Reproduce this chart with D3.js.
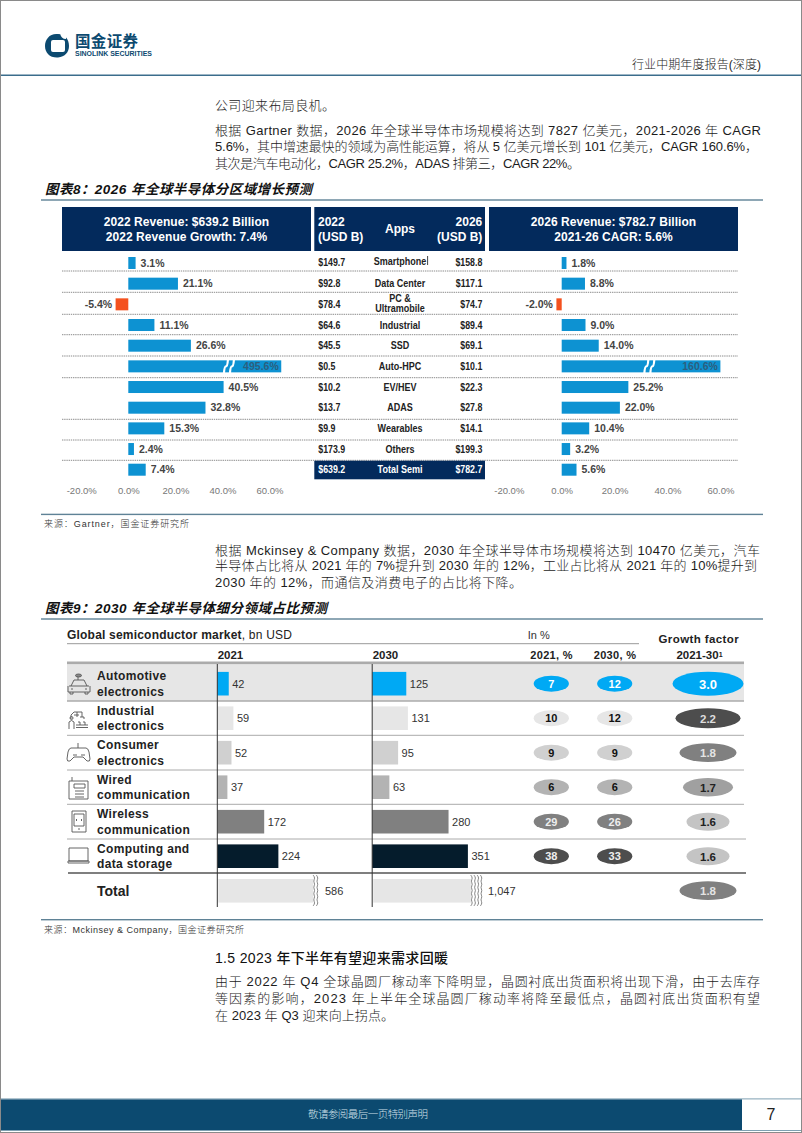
<!DOCTYPE html>
<html><head><meta charset="utf-8">
<script src="https://cdn.jsdelivr.net/npm/d3@7"></script>
<style>
html,body{margin:0;padding:0;background:#fff}
svg{display:block}
text{font-family:"Liberation Sans","Noto Sans CJK SC",sans-serif}
.cn{font-family:"Liberation Sans","Noto Sans CJK SC",sans-serif;font-weight:300}
</style></head><body>
<svg id="page" width="802" height="1133"></svg>
<script>
// ---- chart 8 data
const apps = ["Smartphone","Data Center","PC & Ultramobile","Industrial","SSD","Auto-HPC","EV/HEV","ADAS","Wearables","Others","Total Semi"];
const revenue2022 = [149.7,92.8,78.4,64.6,45.5,0.5,10.2,13.7,9.9,173.9,639.2];
const revenue2026 = [158.8,117.1,74.7,89.4,69.1,10.1,22.3,27.8,14.1,199.3,782.7];
const growth2022 = [3.1,21.1,-5.4,11.1,26.6,495.6,40.5,32.8,15.3,2.4,7.4];
const cagr2026 = [1.8,8.8,-2.0,9.0,14.0,160.6,25.2,22.0,10.4,3.2,5.6];
const pctTicks = [-20,0,20,40,60];
const brokenAxisLimit2022 = 65;
const brokenAxisLimit2026 = 60;
const breakMark2022 = 41.5;
const breakMark2026 = 32;
// ---- chart 9 data
const segments = [["Automotive","electronics"],["Industrial","electronics"],["Consumer","electronics"],["Wired","communication"],["Wireless","communication"],["Computing and","data storage"]];
const market2021 = [42,59,52,37,172,224];
const market2030 = [125,131,95,63,280,351];
const share2021 = [7,10,9,6,29,38];
const share2030 = [12,12,9,6,26,33];
const growthFactor = [3.0,2.2,1.8,1.7,1.6,1.6];
const totals = {y2021:586,y2030:1047,factor:1.8};
const brokenTotalLimit = [348,358];
const segmentColors = ["#00a9f4","#e6e6e6","#d0d0d0","#b3b3b3","#808080","#051c2c"];
const bubbleColors = ["#00a9f4","#e6e6e6","#d0d0d0","#b3b3b3","#808080","#4d4d4d"];
const bubbleText = ["#fff","#111","#111","#111","#eee","#eee"];

const svg = d3.select("#page");
const NAVY = "#032a5c", BLUE="#0d92d2", ORANGE="#f4511e", RULE="#5f8296", DEEP="#0c4a70";
const pct = d=>d3.format(".1f")(d).replace("\u2212","-")+"%";

function t(sel,x,y,str,o={}){
  const n = sel.append("text").attr("x",x).attr("y",y).attr("dy","0.35em").text(str)
    .attr("font-size",o.size||10).attr("fill",o.fill||"#222")
    .attr("text-anchor",o.anchor||"start");
  if(o.weight) n.attr("font-weight",o.weight);
  if(o.style) n.attr("font-style",o.style);
  if(o.ls) n.attr("letter-spacing",o.ls);
  if(o.len) n.attr("textLength",o.len).attr("lengthAdjust",o.adj||"spacing");
  if(o.cls) n.attr("class",o.cls);
  if(o.squeeze) n.attr("textLength",n.node().getComputedTextLength()*o.squeeze).attr("lengthAdjust","spacingAndGlyphs");
  return n;
}

// page frame
svg.append("rect").attr("x",.5).attr("y",.5).attr("width",801).attr("height",1132).attr("fill","#fff").attr("stroke","#8a8a8a");
// header
const logo = svg.append("g");
logo.append("path").attr("fill-rule","evenodd").attr("fill",DEEP)
  .attr("d","M58 34 C50 33 45 39 45 46 C45 53 50 58 58 57.5 C65 57 69 52 69 46 C69 39 65 34 58 34 Z M53 40 L63 40 Q65 40 65 42 L65 50 Q65 52 63 52 L53 52 Q51 52 51 50 L51 42 Q51 40 53 40 Z");
logo.append("path").attr("fill","#fff").attr("d","M60 33 L66 33 L66 39 Q61 39 60 33 Z");
t(logo,75,42,"国金证券",{size:15.5,weight:700,fill:DEEP,len:63});
t(logo,75,53.5,"SINOLINK SECURITIES",{size:7,weight:700,fill:DEEP,len:77,adj:"spacingAndGlyphs"});
t(svg,632,65,"行业中期年度报告(深度)",{size:12,cls:"cn",len:129,fill:"#222"});
svg.append("rect").attr("x",1).attr("y",74.6).attr("width",800).attr("height",1.2).attr("fill",DEEP);

// body text
const body = [
 [215,105,"公司迎来布局良机。",120],
 [215,130,"根据 Gartner 数据，2026 年全球半导体市场规模将达到 7827 亿美元，2021-2026 年 CAGR",546],
 [215,146.7,"5.6%，其中增速最快的领域为高性能运算，将从 5 亿美元增长到 101 亿美元，CAGR 160.6%，",543],
 [215,163.3,"其次是汽车电动化，CAGR 25.2%，ADAS 排第三，CAGR 22%。",365],
 [215,550,"根据 Mckinsey & Company 数据，2030 年全球半导体市场规模将达到 10470 亿美元，汽车",545],
 [215,565.5,"半导体占比将从 2021 年的 7%提升到 2030 年的 12%，工业占比将从 2021 年的 10%提升到",542],
 [215,582.7,"2030 年的 12%，而通信及消费电子的占比将下降。",307],
 [215,981.7,"由于 2022 年 Q4 全球晶圆厂稼动率下降明显，晶圆衬底出货面积将出现下滑，由于去库存",545],
 [215,998.7,"等因素的影响，2023 年上半年全球晶圆厂稼动率将降至最低点，晶圆衬底出货面积有望",545],
 [215,1015.7,"在 2023 年 Q3 迎来向上拐点。",179]
];
body.forEach(b=>t(svg,b[0],b[1],b[2],{size:13,cls:"cn",len:b[3],fill:"#1c1c1c"}));
t(svg,215,958,"1.5 2023 年下半年有望迎来需求回暖",{size:14,weight:500,len:233,fill:"#111"});
t(svg,45,189,"图表8：2026 年全球半导体分区域增长预测",{size:13.5,weight:700,style:"italic",len:267,fill:"#111"});
t(svg,45,608,"图表9：2030 年全球半导体细分领域占比预测",{size:13.5,weight:700,style:"italic",len:282,fill:"#111"});
[200,514.4,619,919.7].forEach(y=>svg.append("rect").attr("x",41).attr("y",y-.7).attr("width",722).attr("height",1.4).attr("fill",RULE));
t(svg,44,524,"来源：Gartner，国金证券研究所",{size:9,cls:"cn",len:145,fill:"#333"});
t(svg,44,929.7,"来源：Mckinsey & Company，国金证券研究所",{size:9,cls:"cn",len:200,fill:"#333"});

// ---- chart 8
const rowY = d3.scalePoint().domain(apps).range([263,469.7]);
const chart8 = svg.append("g");
const headers = [[62,249,[["2022 Revenue: $639.2 Billion",221.7],["2022 Revenue Growth: 7.4%",237]]],[489,249,[["2026 Revenue: $782.7 Billion",221.7],["2021-26 CAGR: 5.6%",237]]]];
headers.forEach(h=>{
  chart8.append("rect").attr("x",h[0]).attr("y",207).attr("width",h[1]).attr("height",44).attr("fill",NAVY);
  h[2].forEach(l=>t(chart8,h[0]+h[1]/2,l[1],l[0],{size:12,weight:700,fill:"#fff",anchor:"middle",ls:.05}));
});
chart8.append("rect").attr("x",314.3).attr("y",207).attr("width",170.7).attr("height",44).attr("fill",NAVY);
t(chart8,318,222,"2022",{size:12,weight:700,fill:"#fff"});
t(chart8,318,236.5,"(USD B)",{size:12,weight:700,fill:"#fff"});
t(chart8,482.3,222,"2026",{size:12,weight:700,fill:"#fff",anchor:"end"});
t(chart8,482.3,236.5,"(USD B)",{size:12,weight:700,fill:"#fff",anchor:"end"});
t(chart8,400,229,"Apps",{size:12,weight:700,fill:"#fff",anchor:"middle"});

// dotted rules
[271,292.3,314.3,334.7,356,377.7,419.3,440,460.3].forEach(y=>
  chart8.append("line").attr("x1",62).attr("x2",738).attr("y1",y).attr("y2",y)
   .attr("stroke","#8c8c8c").attr("stroke-dasharray","1.4 0.8"));
chart8.append("rect").attr("x",314.3).attr("y",460.7).attr("width",170.7).attr("height",18.6).attr("fill",NAVY);

function growthPanel(values,limit,mark,x0,pxPer){
  const x = d3.scaleLinear().domain([0,60]).range([x0,x0+60*pxPer]);
  const g = chart8.append("g");
  g.selectAll("rect").data(values).join("rect")
    .attr("x",d=>Math.min(x(0),x(d))).attr("y",(d,i)=>rowY(apps[i])-6)
    .attr("width",d=>Math.abs(x(Math.min(d,limit))-x(0))).attr("height",12)
    .attr("fill",d=>d<0?ORANGE:BLUE);
  values.forEach((d,i)=>{
    const y = rowY(apps[i]);
    if(d>limit){
      const bx = x(mark);
      [bx,bx+6].forEach(px=>g.append("path").attr("d",`M${px+2} ${y-7} Q${px+1.5} ${y} ${px} ${y} Q${px-1.5} ${y} ${px-2} ${y+7}`)
          .attr("stroke","#fff").attr("stroke-width",2.2).attr("fill","none"));
      t(g,x(limit)-2.5,y,pct(d),{size:10.5,weight:700,fill:"#2c5f7e",anchor:"end"});
    } else if(d<0){
      t(g,x(d)-3.5,y,pct(d),{size:10.5,weight:700,fill:"#444",anchor:"end"});
    } else {
      t(g,x(d)+5,y,pct(d),{size:10.5,weight:700,fill:"#444"});
    }
  });
  const axis = d3.axisBottom(d3.scaleLinear().domain([-20,60]).range([x(-20),x(60)]))
    .tickValues(pctTicks).tickFormat(pct).tickSize(0).tickPadding(0);
  const ax = chart8.append("g").attr("transform","translate(0,487.5)").call(axis);
  ax.select(".domain").remove();
  ax.selectAll("text").attr("font-size",9.5).attr("fill","#777").attr("font-family","Liberation Sans");
}
growthPanel(growth2022,brokenAxisLimit2022,breakMark2022,128.3,2.353);
growthPanel(cagr2026,brokenAxisLimit2026,breakMark2026,561.7,2.645);

apps.forEach((a,i)=>{
  const y = rowY(a), total = i===apps.length-1, col = total?"#fff":"#222";
  t(chart8,318.3,y+(i===0?-1:0),d3.format("$.1f")(revenue2022[i]),{size:10,weight:700,fill:col,squeeze:.88});
  t(chart8,482.3,y+(i===0?-1:0),d3.format("$.1f")(revenue2026[i]),{size:10,weight:700,fill:col,anchor:"end",squeeze:.88});
  if(a==="PC & Ultramobile"){
    t(chart8,400,298.5,"PC &",{size:10,weight:700,anchor:"middle",squeeze:.9});
    t(chart8,400,308.5,"Ultramobile",{size:10,weight:700,anchor:"middle",squeeze:.9});
  } else t(chart8,400,y+(i===0?-2:0),a,{size:10,weight:700,fill:col,anchor:"middle",squeeze:.9});
});
chart8.append("line").attr("x1",427.6).attr("x2",427.6).attr("y1",256).attr("y2",265).attr("stroke","#444");

// ---- chart 9
const chart9 = svg.append("g");
const mY = d3.scalePoint().domain(d3.range(7)).range([683.7,890.7]);
const mX = d3.scaleLinear().domain([0,351]).range([0,95.7]);
const axis21 = 217.3, axis30 = 372.2, shareX = [551.3,614.7], factorX = 708;

chart9.append("rect").attr("x",67).attr("y",663).attr("width",677).attr("height",38).attr("fill","#e6e6e6");
const hg = t(chart9,67,634.7,"Global semiconductor market",{size:12,weight:700,fill:"#222",ls:.2});
hg.append("tspan").text(", bn USD").attr("font-weight",400);
chart9.append("line").attr("x1",67).attr("x2",639).attr("y1",643.7).attr("y2",643.7).attr("stroke","#999");
t(chart9,217.7,655,"2021",{size:11.5,weight:700});
t(chart9,372.7,655,"2030",{size:11.5,weight:700});
t(chart9,527.7,634.7,"In %",{size:11,fill:"#333"});
t(chart9,551.6,655,"2021, %",{size:11,weight:700,anchor:"middle",ls:.3});
t(chart9,615,655,"2030, %",{size:11,weight:700,anchor:"middle",ls:.3});
t(chart9,698.8,639,"Growth factor",{size:11.5,weight:700,anchor:"middle",ls:.4});
const gf = t(chart9,699.5,655,"2021-30",{size:11.5,weight:700,anchor:"middle"});
gf.append("tspan").text("1").attr("font-size",7).attr("dy","-0.3em");
chart9.append("rect").attr("x",67).attr("y",661.5).attr("width",677).attr("height",2.6).attr("fill","#ababab");
[[701,1.6,744,"#ababab"],[735.3,1,744,"#aaa"],[770,1,744,"#aaa"],[804.3,1,744,"#aaa"],[839,1,746,"#aaa"],[873,1.4,746,"#555"]].forEach(r=>
  chart9.append("line").attr("x1",r[0]===873?68:67).attr("x2",r[2]).attr("y1",r[0]).attr("y2",r[0]).attr("stroke",r[3]).attr("stroke-width",r[1]));

segments.forEach((s,i)=>{
  const y = mY(i);
  t(chart9,97,y-7.6,s[0],{size:12,weight:700,fill:"#222",ls:.35});
  t(chart9,97,y+7.8,s[1],{size:12,weight:700,fill:"#222",ls:.35});
  [[axis21,market2021[i]],[axis30,market2030[i]]].forEach(p=>{
    chart9.append("rect").attr("x",p[0]).attr("y",y-11.8).attr("width",mX(p[1])).attr("height",23.6).attr("fill",segmentColors[i]);
    t(chart9,p[0]+mX(p[1])+3.5,y,p[1],{size:11,fill:"#333"});
  });
  [share2021[i],share2030[i]].forEach((v,k)=>{
    chart9.append("ellipse").attr("cx",shareX[k]).attr("cy",y).attr("rx",17.6).attr("ry",8).attr("fill",bubbleColors[i]);
    t(chart9,shareX[k],y,v,{size:11,weight:700,fill:bubbleText[i],anchor:"middle"});
  });
});
// growth-factor bubbles
const bW = d3.scaleLinear().domain([1.6,1.8,2.2,3.0]).range([43,57,65,71]);
const bH = d3.scaleLinear().domain([1.6,1.8,2.2,3.0]).range([18,18.7,20,24]);
const bC = d3.scaleOrdinal().domain([3.0,2.2,1.8,1.7,1.6]).range(["#00a9f4","#4d4d4d","#808080","#a0a0a0","#c4c4c4"]);
const bT = d3.scaleOrdinal().domain([3.0,2.2,1.8,1.7,1.6]).range(["#fff","#ddd","#e4e4e4","#222","#222"]);
growthFactor.concat([totals.factor]).forEach((v,i)=>{
  const y = mY(i);
  chart9.append("ellipse").attr("cx",factorX).attr("cy",y).attr("rx",bW(v)/2).attr("ry",bH(v)/2).attr("fill",bC(v));
  t(chart9,factorX,y+.5,v.toFixed(1),{size:v===3?13:11.5,weight:700,fill:bT(v),anchor:"middle"});
});
// total row
t(chart9,97,890.7,"Total",{size:14,weight:700,fill:"#222"});
const wave = d3.line().curve(d3.curveBasis);
[[axis21,totals.y2021,brokenTotalLimit[0],2,325],[axis30,totals.y2030,brokenTotalLimit[1],4,488]].forEach(p=>{
  const w = mX(p[2]);
  chart9.append("rect").attr("x",p[0]+1).attr("y",879).attr("width",w).attr("height",23.6).attr("fill","#e6e6e6");
  for(let k=0;k<p[3];k++){
    const xk = p[0]+w+2+k*3.2, pts=[];
    for(let j=0;j<=10;j++) pts.push([xk+(j%2?1.1:-1.1),875+j*3.1]);
    chart9.append("path").attr("d",wave(pts)).attr("fill","none").attr("stroke","#666").attr("stroke-width",.8);
  }
  t(chart9,p[4],890.7,d3.format(",")(p[1]),{size:11,fill:"#333"});
});
[axis21,axis30].forEach(x=>chart9.append("line").attr("x1",x).attr("x2",x).attr("y1",664).attr("y2",907).attr("stroke","#333").attr("stroke-width",1));

// icons
const ic = chart9.append("g").attr("fill","none").attr("stroke","#555").attr("stroke-width",.9);
ic.append("path").attr("d","M69 686 h20 M71 686 l3 -6 h10 l3 6 M68 686 v6 h22 v-6 M70 692 v2 h3 v-2 M85 692 v2 h3 v-2 M71 689 h2 M85 689 h2 M78 680 v-3");
ic.append("ellipse").attr("cx",78.5).attr("cy",675.5).attr("rx",3).attr("ry",1.5).attr("fill","#888");
ic.append("path").attr("d","M69 729 v-7 q2.5 -3 5 0 v7 M71 719 v-4 l3 -3 h8 v5 M77 712 v5 M74 715 h5 M80 717 h4 v2 M76 725 h12 M76 727.5 h12 M78 722 h2 v3 M83 722 h2 v3");
ic.append("circle").attr("cx",71.5).attr("cy",718).attr("r",1.5);
ic.append("path").attr("d","M78 743 v5 M71 748 h15 q2 0 3 4 l1 7 q0 3 -3 2 l-4 -4 h-9 l-4 4 q-3 1 -3 -2 l1 -7 q1 -4 3 -4 Z M73 755 h4 M81 755 h4");
ic.append("path").attr("d","M69 781 h19 v18 h-19 Z M72 781 v-4 M74 784 h11 v4 h-11 Z M75 791 h9 M75 794 h9 M75 797 h9");
ic.append("path").attr("d","M72 811 h14 v21 h-14 Z M74 814 h10 v12 h-10 Z M77 820 l-1 -1 m0 1 l1 1 M81 819 l1 1 l-1 1 M78 829 h2");
ic.append("path").attr("d","M69 848 h19 v13 h-19 Z M68 861 h21 v2 h-21 Z");

// footer
svg.append("rect").attr("x",1).attr("y",1098.4).attr("width",800).attr("height",1).attr("fill","#7fa0b2");
svg.append("rect").attr("x",1).attr("y",1099.4).attr("width",741).attr("height",30.6).attr("fill",DEEP);
svg.append("rect").attr("x",1).attr("y",1130).attr("width",800).attr("height",1).attr("fill","#7fa0b2");
t(svg,368,1114,"敬请参阅最后一页特别声明",{size:10.5,cls:"cn",fill:"#cfe0ea",anchor:"middle",len:120});
t(svg,771,1114,"7",{size:16,fill:"#222",anchor:"middle"});
</script>
</body></html>
